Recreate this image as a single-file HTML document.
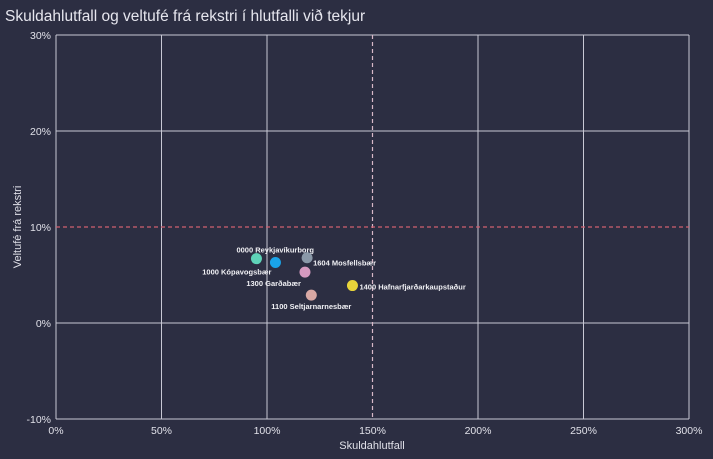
<!DOCTYPE html>
<html><head><meta charset="utf-8"><style>
html,body{margin:0;padding:0;background:#2c2e42;width:713px;height:459px;overflow:hidden}
svg{display:block;font-family:"Liberation Sans",sans-serif}
</style></head><body>
<svg id="chart" width="713" height="459">
<rect width="713" height="459" fill="#2c2e42"/>
<text x="5" y="21" fill="#e6e6ee" font-size="15.5">Skuldahlutfall og veltufé frá rekstri í hlutfalli við tekjur</text>
<g id="grid"></g><g id="ref"></g><g id="pts"></g>
<text x="372" y="449" fill="#e0e0e8" font-size="11" text-anchor="middle">Skuldahlutfall</text>
<text transform="translate(21,227) rotate(-90)" fill="#e0e0e8" font-size="11" text-anchor="middle">Veltufé frá rekstri</text>
</svg>
<script>
const xTicks=[0,50,100,150,200,250,300];
const yTicks=[-10,0,10,20,30];
const names=["0000 Reykjavíkurborg","1000 Kópavogsbær","1604 Mosfellsbær","1300 Garðabær","1400 Hafnarfjarðarkaupstaður","1100 Seltjarnarnesbær"];
const xVals=[95,104,119,118,140.5,121];
const yVals=[6.7,6.3,6.8,5.3,3.9,2.9];
const colors=["#5fd3b8","#1aa3e8","#8a98a8","#d59ac0","#e8d43a","#d8a8a4"];
const X0=56,X1=689,Y0=419,Y1=35;
const sx=v=>X0+(v-0)/(300-0)*(X1-X0);
const sy=v=>Y0-(v+10)/(40)*(Y0-Y1);
const NS="http://www.w3.org/2000/svg";
function mk(t,a,p){const e=document.createElementNS(NS,t);for(const k in a)e.setAttribute(k,a[k]);p.appendChild(e);return e;}
const g=document.getElementById('grid');
xTicks.forEach(t=>{
  if(t!==150){const l=mk('line',{x1:sx(t),x2:sx(t),y1:Y1,y2:Y0,stroke:'#c8c8d4','stroke-width':1},g);
  
  }
  const tx=mk('text',{x:sx(t),y:Y0+15,fill:'#e0e0e8','font-size':10.5,'text-anchor':'middle'},g);tx.textContent=t+'%';
  
  
});
yTicks.forEach(t=>{
  if(t!==10){const l=mk('line',{x1:X0,x2:X1,y1:sy(t),y2:sy(t),stroke:'#c8c8d4','stroke-width':1},g);
  
  }
  const tx=mk('text',{x:X0-5,y:sy(t)+4,fill:'#e0e0e8','font-size':10.5,'text-anchor':'end'},g);tx.textContent=t+'%';
  
  
});
const r=document.getElementById('ref');
const v=mk('line',{x1:sx(150),x2:sx(150),y1:Y1,y2:Y0,stroke:'#d8b8c8','stroke-width':1.2,'stroke-dasharray':'4,3'},r);


const h=mk('line',{x1:X0,x2:X1,y1:sy(10),y2:sy(10),stroke:'#d06070','stroke-width':1.2,'stroke-dasharray':'4,3'},r);


const p=document.getElementById('pts');
const lab=[[-20,-6,'start'],[-4,12,'end'],[6,8,'start'],[-4,14,'end'],[7,4,'start'],[-40,14,'start']];
names.forEach((n,i)=>{
  const c=mk('circle',{cx:sx(xVals[i]),cy:sy(yVals[i]),r:5.5,fill:colors[i]},p);
  
  
  const o=lab[i];
  const t=mk('text',{x:sx(xVals[i])+o[0],y:sy(yVals[i])+o[1],fill:'#f0f0f4','font-size':7.5,'font-weight':'bold','text-anchor':o[2]},p);
  t.textContent=n;
  
  
});
</script>
</body></html>
